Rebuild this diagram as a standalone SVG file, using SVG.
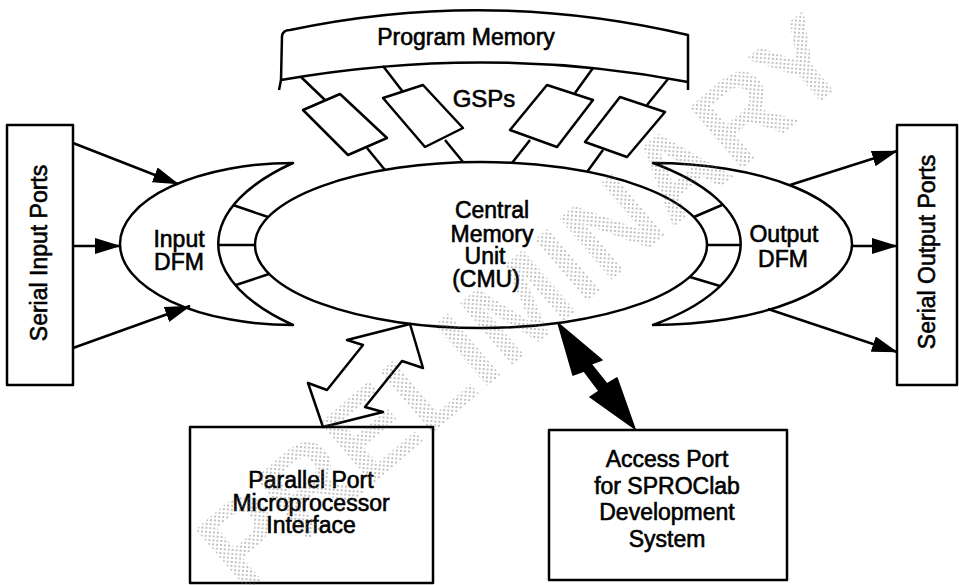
<svg xmlns="http://www.w3.org/2000/svg" width="959" height="585" viewBox="0 0 959 585">
  <defs>
    <style>
      .ln{fill:none;stroke:#000;stroke-width:2.5;stroke-linejoin:round}
      .sh{fill:#fff;stroke:#000;stroke-width:2.5;stroke-linejoin:round}
      .t{font-family:"Liberation Sans",Arial,Helvetica,sans-serif;font-size:23px;fill:#000;text-anchor:middle;stroke:#000;stroke-width:0.6}
      .wm{font-family:"Liberation Sans",Arial,Helvetica,sans-serif;font-size:118px;font-weight:bold;text-anchor:middle;fill:url(#dots)}
    </style>
    <marker id="ah" viewBox="0 0 26 16" refX="25" refY="8" markerWidth="26" markerHeight="16" orient="auto" markerUnits="userSpaceOnUse">
      <path d="M0,0 L26,8 L0,16 Z" fill="#000"/>
    </marker>
    <pattern id="dots" width="4" height="4" patternUnits="userSpaceOnUse" patternTransform="rotate(45)">
      <circle cx="2" cy="2" r="0.75" fill="#666"/>
    </pattern>
  </defs>

  <rect width="959" height="585" fill="#fff"/>

  <!-- program memory band -->
  <g id="program-memory">
    <path class="sh" d="M281,80 L282,36 Q283,30 290,30 Q488,-12 688,35 L688,82 Q488,44 281,80 Z"/>
    <path class="ln" d="M281,80 L279,90 M688,82 L688,90"/>
    <text class="t" x="466" y="45">Program Memory</text>
  </g>

  <!-- four GSPs between program memory and CMU -->
  <g id="gsp-1">
    <path class="ln" d="M301,77 L325,100 M367,148 L385,170"/>
    <polygon class="sh" points="303,110 340,94 387,138 348,155"/>
  </g>
  <g id="gsp-2">
    <path class="ln" d="M383,66 L403,92 M445,140 L463,162"/>
    <polygon class="sh" points="383,98 423,85 463,128 425,147"/>
  </g>
  <g id="gsp-3">
    <path class="ln" d="M593,68 L575,93 M530,140 L512,163"/>
    <polygon class="sh" points="547,85 593,100 557,147 510,130"/>
  </g>
  <g id="gsp-4">
    <path class="ln" d="M668,79 L647,105 M603,150 L587,172"/>
    <polygon class="sh" points="620,97 665,112 627,157 585,142"/>
  </g>
  <text class="t" x="484" y="107" style="font-size:24px">GSPs</text>

  <!-- input data flow manager -->
  <g id="input-dfm">
    <path class="sh" d="M293,163 A173,81 0 0 0 293,325 A263,116 0 0 1 293,163 Z"/>
    <path class="ln" d="M233,205 L268,217 M218,245 L255,245 M236,285 L269,274"/>
    <text class="t" x="179" y="247">Input</text>
    <text class="t" x="179" y="270">DFM</text>
  </g>

  <!-- output data flow manager -->
  <g id="output-dfm">
    <path class="sh" d="M653,163 A199,81 0 0 1 653,325 A259,108 0 0 0 653,163 Z"/>
    <path class="ln" d="M694,217 L722,205 M707,245 L741,245 M690,277 L720,286"/>
    <text class="t" x="784" y="242">Output</text>
    <text class="t" x="783" y="267">DFM</text>
  </g>

  <!-- central memory unit -->
  <g id="cmu">
    <ellipse class="sh" cx="481" cy="245" rx="226" ry="83"/>
    <text class="t" x="492" y="218">Central</text>
    <text class="t" x="492" y="242">Memory</text>
    <text class="t" x="485" y="264">Unit</text>
    <text class="t" x="486" y="287">(CMU)</text>
  </g>

  <g id="serial-input-ports">
    <rect class="sh" x="7" y="125" width="66" height="260"/>
    <text class="t" transform="translate(47,253) rotate(-90)">Serial Input Ports</text>
  </g>

  <g id="serial-output-ports">
    <rect class="sh" x="897" y="125" width="60" height="260"/>
    <text class="t" transform="translate(935,252) rotate(-90)">Serial Output Ports</text>
  </g>

  <g id="parallel-port">
    <rect class="sh" x="190" y="427" width="243" height="156"/>
    <text class="t" x="311" y="488">Parallel Port</text>
    <text class="t" x="311" y="511">Microprocessor</text>
    <text class="t" x="311" y="533">Interface</text>
  </g>

  <g id="access-port">
    <rect class="sh" x="549" y="430" width="238" height="150"/>
    <text class="t" x="667" y="467">Access Port</text>
    <text class="t" x="667" y="494">for SPROClab</text>
    <text class="t" x="667" y="520">Development</text>
    <text class="t" x="667" y="547">System</text>
  </g>

  <!-- connectors -->
  <g id="connectors">
    <path class="ln" marker-end="url(#ah)" d="M73,143 L178,184"/>
    <path class="ln" marker-end="url(#ah)" d="M73,246 L120,246"/>
    <path class="ln" marker-end="url(#ah)" d="M73,348 L190,306"/>
    <path class="ln" marker-end="url(#ah)" d="M790,185 L897,151"/>
    <path class="ln" marker-end="url(#ah)" d="M852,246 L897,246"/>
    <path class="ln" marker-end="url(#ah)" d="M768,309 L897,352"/>
    <!-- hollow bus arrow: CMU to parallel port -->
    <polygon class="sh" points="410,324 423,368 402,361 365,407 383,412 323,427 308,383 327,390 363,345 347,340"/>
    <!-- solid double arrow: CMU to access port -->
    <polygon fill="#000" stroke="#000" stroke-width="1.5" stroke-linejoin="round"
             points="558,323 602,360 591,364 607,384 617,378 635,429 590,397 599,391 584,371 573,375"/>
  </g>

  <!-- halftone watermark -->
  <text class="wm" transform="translate(523,302) rotate(-40.5)" dy="0.35em">PRELIMINARY</text>
</svg>
